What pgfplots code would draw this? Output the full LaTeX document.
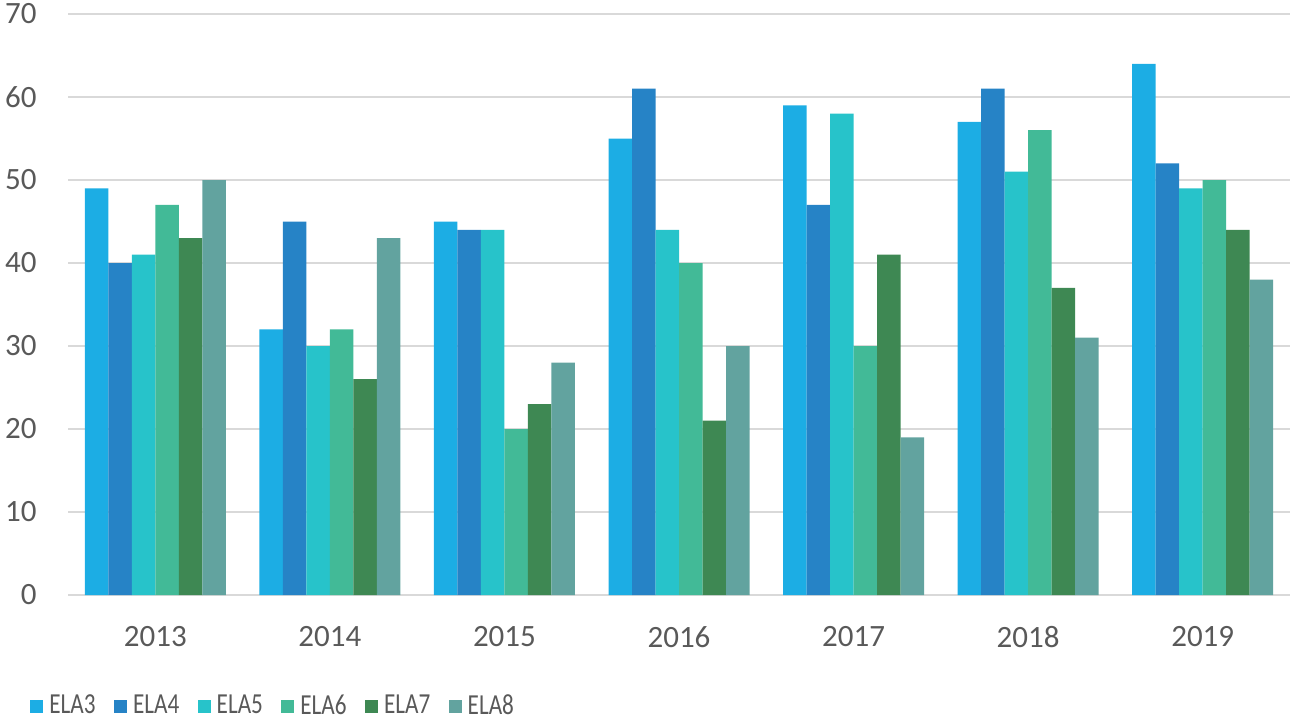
\documentclass[border=0pt]{standalone}
\usepackage{pgfplots}
\pgfplotsset{compat=1.18}
\usepackage{fontspec}
\setmainfont{Carlito}
\newfontfamily\legfont[FakeStretch=0.8]{Carlito}
\definecolor{ela3}{HTML}{1CADE4}
\definecolor{ela4}{HTML}{2683C6}
\definecolor{ela5}{HTML}{27C3CA}
\definecolor{ela6}{HTML}{42BA97}
\definecolor{ela7}{HTML}{3E8853}
\definecolor{ela8}{HTML}{62A39F}
\definecolor{txt}{HTML}{595959}
\definecolor{gridc}{HTML}{D9D9D9}

\begin{document}
\begin{tikzpicture}
\begin{axis}[
  scale only axis,
  width=611pt, height=290.5pt,
  ybar=0pt, bar width=11.75pt,
  xmin=-0.5, xmax=6.5,
  ymin=0, ymax=70,
  ytick={0,10,...,70},
  xtick={0,...,6},
  xticklabels={2013,2014,2015,2016,2017,2018,2019},
  axis line style={draw=none},
  major tick length=0pt,
  ymajorgrids,
  grid style={gridc, line width=0.75pt},
  tick label style={font=\fontsize{15.5}{18}\selectfont, text=txt},
  /pgf/number format/assume math mode=true,
  yticklabel style={inner sep=0pt, xshift=-15.5pt},
  xticklabel style={inner sep=0pt, yshift=-15.5pt},
  legend style={draw=none, fill=none, legend columns=-1,
    at={(0,0)}, anchor=west, xshift=-19pt, yshift=-55.5pt,
    inner sep=0pt, font=\legfont\fontsize{14.5}{17}\selectfont, text=txt,
    nodes={inner sep=0pt},
    /tikz/every odd column/.append style={column sep=3pt},
    /tikz/every even column/.append style={column sep=9.2pt}},
  legend image code/.code={\fill[#1] (0pt,-3.25pt) rectangle (6.5pt,3.25pt);},
]
\addplot[fill=ela3, draw=none] coordinates {(0,49) (1,32) (2,45) (3,55) (4,59) (5,57) (6,64)};
\addplot[fill=ela4, draw=none] coordinates {(0,40) (1,45) (2,44) (3,61) (4,47) (5,61) (6,52)};
\addplot[fill=ela5, draw=none] coordinates {(0,41) (1,30) (2,44) (3,44) (4,58) (5,51) (6,49)};
\addplot[fill=ela6, draw=none] coordinates {(0,47) (1,32) (2,20) (3,40) (4,30) (5,56) (6,50)};
\addplot[fill=ela7, draw=none] coordinates {(0,43) (1,26) (2,23) (3,21) (4,41) (5,37) (6,44)};
\addplot[fill=ela8, draw=none] coordinates {(0,50) (1,43) (2,28) (3,30) (4,19) (5,31) (6,38)};
\legend{ELA3,ELA4,ELA5,ELA6,ELA7,ELA8}
\end{axis}
\path ([xshift=-34pt,yshift=-63pt]current axis.south west) rectangle ([xshift=3pt,yshift=7pt]current axis.north east);
\end{tikzpicture}
\end{document}
